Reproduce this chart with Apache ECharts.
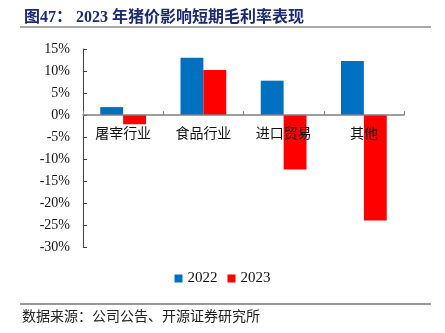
<!DOCTYPE html>
<html><head><meta charset="utf-8">
<script src="https://cdn.jsdelivr.net/npm/echarts@6/dist/echarts.min.js"></script>
<style>html,body{margin:0;padding:0;background:#fff;}#c{width:445px;height:333px;}</style>
</head><body><div id="c"></div>
<script>
var categories = ['屠宰行业', '食品行业', '进口贸易', '其他'];
var values2022 = [1.8, 13.0, 7.8, 12.3];
var values2023 = [-2.1, 10.2, -12.4, -24.0];
var seriesNames = ['2022', '2023'];
var titleText = '图47： 2023 年猪价影响短期毛利率表现';
var sourceText = '数据来源：公司公告、开源证券研究所';

var chart = echarts.init(document.getElementById('c'));
chart.setOption({
  animation: false,
  backgroundColor: '#fff',
  title: {
    text: titleText, left: 19, top: 5,
    textStyle: {fontFamily: 'Liberation Serif, Noto Sans CJK SC', fontSize: 16, fontWeight: 'bold', color: '#1a2a72'}
  },
  graphic: [
    {type: 'line', shape: {x1: 20, y1: 27, x2: 431, y2: 27}, style: {stroke: '#8c8c8c', lineWidth: 1.5}},
    {type: 'line', shape: {x1: 20, y1: 304, x2: 431, y2: 304}, style: {stroke: '#333', lineWidth: 1}},
    {type: 'text', left: 22, top: 309, style: {text: sourceText, font: '14px "Noto Sans CJK SC"', fill: '#222'}}
  ],
  legend: {
    data: seriesNames, left: 'center', top: 266, itemWidth: 8, itemHeight: 8, itemGap: 10,
    icon: 'rect',
    textStyle: {fontFamily: 'Liberation Serif', fontSize: 15, color: '#111'}
  },
  grid: {left: 83, right: 41, top: 49, bottom: 86, containLabel: false},
  xAxis: {
    type: 'category', data: categories, z: 10,
    axisLine: {onZero: true, lineStyle: {color: '#7f7f7f', width: 1.5}},
    axisTick: {show: true, inside: true, length: 4, lineStyle: {color: '#7f7f7f'}},
    axisLabel: {margin: -121, fontFamily: 'Noto Sans CJK SC', fontSize: 14, color: '#111'}
  },
  yAxis: {
    type: 'value', min: -30, max: 15, interval: 5,
    axisLine: {show: true, lineStyle: {color: '#404040', width: 1}},
    axisTick: {show: true, inside: true, length: 4, lineStyle: {color: '#404040'}},
    splitLine: {show: false},
    axisLabel: {formatter: '{value}%', margin: 13, fontFamily: 'Liberation Serif', fontSize: 14, color: '#111'}
  },
  series: [
    {name: seriesNames[0], type: 'bar', data: values2022, barGap: '0%', barCategoryGap: '43%', itemStyle: {color: '#0070C0'}},
    {name: seriesNames[1], type: 'bar', data: values2023, barGap: '0%', barCategoryGap: '43%', itemStyle: {color: '#FF0000'}}
  ]
});
</script></body></html>
